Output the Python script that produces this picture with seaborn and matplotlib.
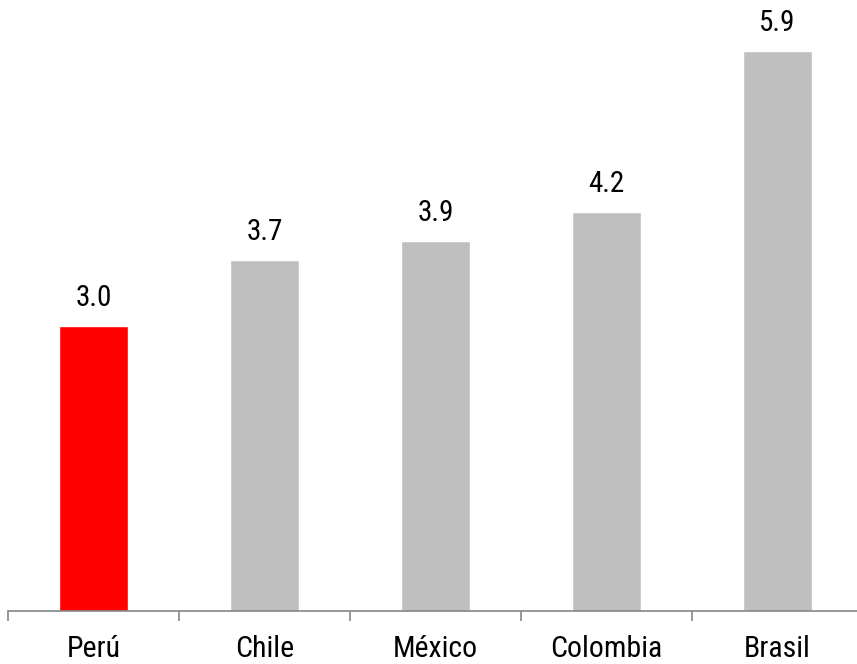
import matplotlib
matplotlib.use("Agg")
import matplotlib.pyplot as plt
import seaborn as sns
import pandas as pd
from matplotlib.ticker import FixedLocator

countries = ["Perú", "Chile", "México", "Colombia", "Brasil"]
values = [3.0, 3.7, 3.9, 4.2, 5.9]
colors = ["#FF0000", "#BFBFBF", "#BFBFBF", "#BFBFBF", "#BFBFBF"]

sns.set_style("white")
plt.rcParams['font.family'] = ['Roboto Condensed', 'Liberation Sans', 'DejaVu Sans']

df = pd.DataFrame({"country": countries, "value": values})

fig = plt.figure(figsize=(8.57, 6.64), dpi=100)
ax = fig.add_axes([8/857, 53/664, 1 - 8/857, 611/664])

sns.barplot(data=df, x="country", y="value", hue="country", palette=colors,
            legend=False, width=0.40, ax=ax, saturation=1)

for i, v in enumerate(values):
    ax.annotate(f"{v:.1f}", xy=(i, v), xytext=(0, 10), textcoords="offset points",
                ha="center", va="bottom", fontsize=21, color="black")

ax.set_xlim(-0.5, -0.5 + 849/171)
ax.set_ylim(0, 611/95)
ax.set_xlabel("")
ax.set_ylabel("")
ax.set_yticks([])
for s in ["top", "right", "left"]:
    ax.spines[s].set_visible(False)
ax.spines["bottom"].set_color("#868686")
ax.spines["bottom"].set_linewidth(1.2)
ax.xaxis.set_minor_locator(FixedLocator([-0.5, 0.5, 1.5, 2.5, 3.5, 4.5]))
ax.tick_params(axis="x", which="minor", length=7, width=1.2, color="#868686", direction="out", bottom=True)
ax.tick_params(axis="x", which="major", length=0, pad=17, labelsize=21.5, labelcolor="black")

fig.savefig("out.png", dpi=100)
